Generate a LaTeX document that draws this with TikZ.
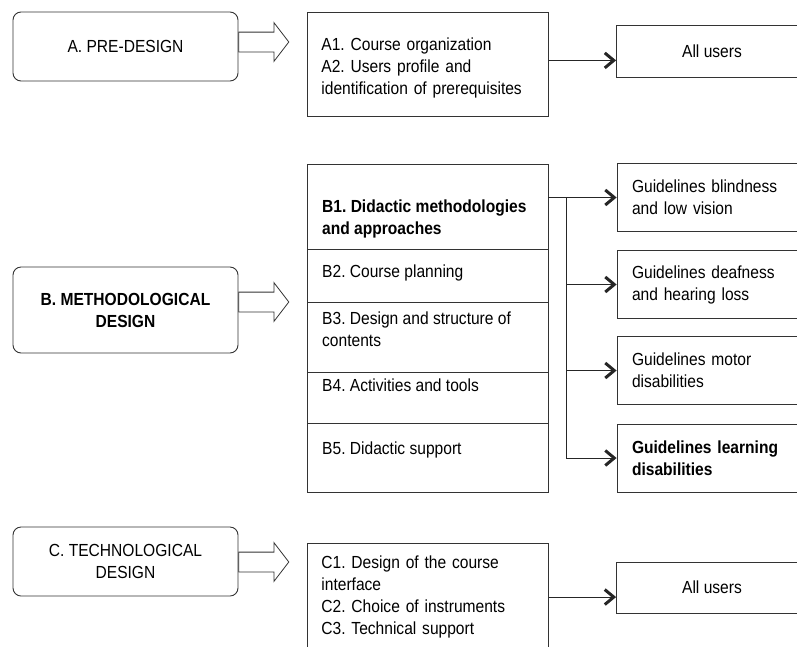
\documentclass[tikz,border=0pt]{standalone}
\usepackage{fontspec}
\setmainfont{Liberation Sans}[FakeStretch=0.89]
\usetikzlibrary{shapes.arrows,arrows.meta,positioning}
\frenchspacing

\newcommand{\boxfont}{\fontsize{17.5}{22}\selectfont}

\begin{document}
\begin{tikzpicture}[x=1pt, y=-1pt, font=\boxfont,
    phase/.style={draw=black!80, line width=0.9pt, rounded corners=8pt, minimum width=225pt, inner sep=0pt, align=center},
    bigarrow/.style={single arrow, draw=black!80, line width=0.8pt, minimum height=50pt, inner xsep=0pt, inner ysep=9.5pt, single arrow head extend=9.5pt, single arrow head indent=0pt, single arrow tip angle=105},
    listbox/.style={draw=black!80, line width=0.8pt, text width=213pt, inner xsep=14pt, align=left, anchor=north west},
    part/.style={draw=black!80, line width=0.8pt, minimum width=241pt, inner sep=0pt, outer sep=0pt},
    usersbox/.style={draw=black!80, line width=0.8pt, minimum width=191pt, minimum height=52pt},
    guidebox/.style={draw=black!80, line width=0.8pt, text width=161pt, inner xsep=15pt, minimum height=68pt, align=left},
    link/.style={draw=black!85, line width=0.8pt, -{Straight Barb[length=9pt,width=15pt,line width=3pt]}}]
    % Keep the frame of the reference
    \clip (0,0) rectangle (797,646);

    % A. Pre-design
    \node[phase, minimum height=69pt] (pre) at (125.5,46.5) {A. PRE-DESIGN};
    \node[bigarrow] (arrA) at (260,42) {};
    \node[listbox, inner ysep=0pt, minimum height=104pt] (listA) at (307,12) {\rule{0pt}{19pt}A1. Course organization\\A2. Users profile and\\identification of prerequisites};
    \node[usersbox] (usersA) at (712,51) {All users};
    \draw[link] ([yshift=4pt]listA.east) -- ([yshift=4pt]listA.east -| usersA.west);

    % B. Methodological design
    \node[phase, minimum height=86pt, font=\boxfont\bfseries] (meth) at (125.5,310) {B. METHODOLOGICAL\\DESIGN};
    \node[bigarrow] (arrB) at (260,302) {};
    \node[part, minimum height=85pt, anchor=north west] (b1) at (307,164) {};
    \node[part, minimum height=53pt, below=0pt of b1] (b2) {};
    \node[part, minimum height=70pt, below=0pt of b2] (b3) {};
    \node[part, minimum height=51pt, below=0pt of b3] (b4) {};
    \node[part, minimum height=69pt, below=0pt of b4] (b5) {};
    \node[anchor=west, inner sep=0pt, align=left, font=\boxfont\bfseries] (b1text) at (322,219) {B1. Didactic methodologies\\and approaches};
    \node[anchor=west, inner sep=0pt] (b2text) at (322,273) {B2. Course planning};
    \node[anchor=west, inner sep=0pt, align=left] (b3text) at (322,329) {B3. Design and structure of\\contents};
    \node[anchor=west, inner sep=0pt] (b4text) at (322,385) {B4. Activities and tools};
    \node[anchor=west, inner sep=0pt] (b5text) at (322,450) {B5. Didactic support};

    % Guidelines
    \node[guidebox] (blind) at (712.5,197.5) {Guidelines blindness\\and low vision};
    \node[guidebox] (deaf) at (712.5,284.5) {Guidelines deafness\\and hearing loss};
    \node[guidebox] (motor) at (712.5,370.5) {Guidelines motor\\disabilities};
    \node[guidebox, font=\boxfont\bfseries] (learn) at (712.5,458) {Guidelines learning\\disabilities};
    \coordinate (fork) at ([xshift=18pt]blind.west -| b1.east);
    \draw[link] (blind.west -| b1.east) -- (blind.west);
    \draw[link] (fork) |- (deaf.west);
    \draw[link] (fork) |- (motor.west);
    \draw[link] (fork) |- (learn.west);

    % C. Technological design
    \node[phase, minimum height=69pt] (tech) at (125.5,561.5) {C. TECHNOLOGICAL\\DESIGN};
    \node[bigarrow] (arrC) at (260,562) {};
    \node[listbox, inner ysep=12.5pt, minimum height=106pt] (listC) at (307,543) {C1. Design of the course\\interface\\C2. Choice of instruments\\C3. Technical support};
    \node[usersbox, minimum height=51pt] (usersC) at (712,587.5) {All users};
    \draw[link] (listC.east) -- (listC.east -| usersC.west);
\end{tikzpicture}
\end{document}
